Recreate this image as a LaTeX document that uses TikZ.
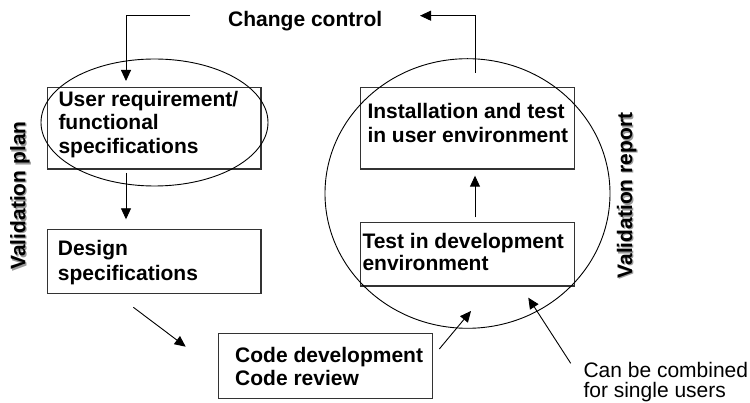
\documentclass[tikz,border=0pt]{standalone}
\usepackage{fontspec}
\setmainfont{Liberation Sans}
\usetikzlibrary{arrows.meta,shapes.geometric}
\begin{document}
\begin{tikzpicture}[x=1pt,y=-1pt,
  box/.style={draw=black!80, line width=1.1pt, inner sep=0pt, outer sep=0pt},
  lbl/.style={inner sep=0pt, align=left, anchor=base west, font=\bfseries\fontsize{21}{#1}\selectfont},
  lbl/.default=23.7,
  side/.style={inner sep=0pt, rotate=90, anchor=base, font=\bfseries\fontsize{21}{25}\selectfont},
  oval/.style={draw=black, line width=0.9pt, ellipse, inner sep=0pt, outer sep=0pt},
  arr/.style={draw=black, line width=0.9pt, -{Triangle[length=11pt,width=10pt]}}
]
\useasboundingbox (0,0) rectangle (750,403);

% boxes
\node[box, minimum width=213.3pt, minimum height=81.7pt] (b1) at (154.35,128.15) {};
\node[box, minimum width=213.3pt, minimum height=64pt]   (b2) at (154.35,261.3) {};
\node[box, minimum width=214pt,   minimum height=65pt]   (b3) at (325.3,365.8) {};
\node[box, minimum width=213.6pt, minimum height=81.7pt] (b4) at (467.5,128.15) {};
\node[box, minimum width=213.6pt, minimum height=63.7pt] (b5) at (467.5,254.15) {};

% box texts (anchored at the baseline of the last line)
\node[lbl] (t1) at (58.3,153.7) {User requirement/\\functional\\specifications};
\node[lbl=24.8] (t2) at (57.7,280.4) {Design\\specifications};
\node[lbl=22.8] (t3) at (235,385.1) {Code development\\Code review};
\node[lbl=23.8] (t4) at (367.3,142.6) {Installation and test\\in user environment};
\node[lbl=22.4] (t5) at (362.3,270.8) {Test in development\\environment};

% ovals
\node[oval, minimum width=227pt, minimum height=127pt] (e1) at (154.5,122.5) {};
\node[oval, minimum width=285pt, minimum height=269.6pt] (e2) at (467.5,193.5) {};

% titles
\node[lbl] (cc) at (228,26.7) {Change control};
\node[side, text=black!40] (vps) at (26.6,197) {Validation plan};
\node[side] (vp) at (25.3,195.5) {Validation plan};
\node[side, text=black!40] (vrs) at (633.3,197) {Validation report};
\node[side] (vr) at (632,195.6) {Validation report};

\node[inner sep=0pt, align=left, anchor=base west, font=\fontsize{21}{19.6}\selectfont] (note) at (583.3,397.2) {Can be combined\\for single users};

% connectors
\coordinate (cin) at (190,15.7);
\coordinate (cout) at (420,15.7);
\draw[arr] (cin) -| ([xshift=-28.35pt,yshift=6.3pt]b1.north);
\draw[arr] ([xshift=-28.35pt,yshift=-4pt]b1.south) -- ([xshift=-28.35pt,yshift=10pt]b2.north);
\draw[arr] ([xshift=-21pt,yshift=-14pt]b2.south) -- ([xshift=-32.6pt,yshift=19.1pt]b3.west);
\draw[arr] ([xshift=7pt,yshift=16.8pt]b3.east) -- ([xshift=3.5pt,yshift=-25pt]b5.south);
\draw[arr] ([xshift=-12.6pt,yshift=33.9pt]note.base west) -- ([xshift=-46pt,yshift=-11.7pt]b5.south east);
\draw[arr] ([xshift=7.5pt,yshift=5pt]b5.north) -- ([xshift=7.5pt,yshift=-6.7pt]b4.south);
\draw[arr] ([xshift=7.5pt,yshift=14.6pt]b4.north) |- (cout);
\end{tikzpicture}
\end{document}
